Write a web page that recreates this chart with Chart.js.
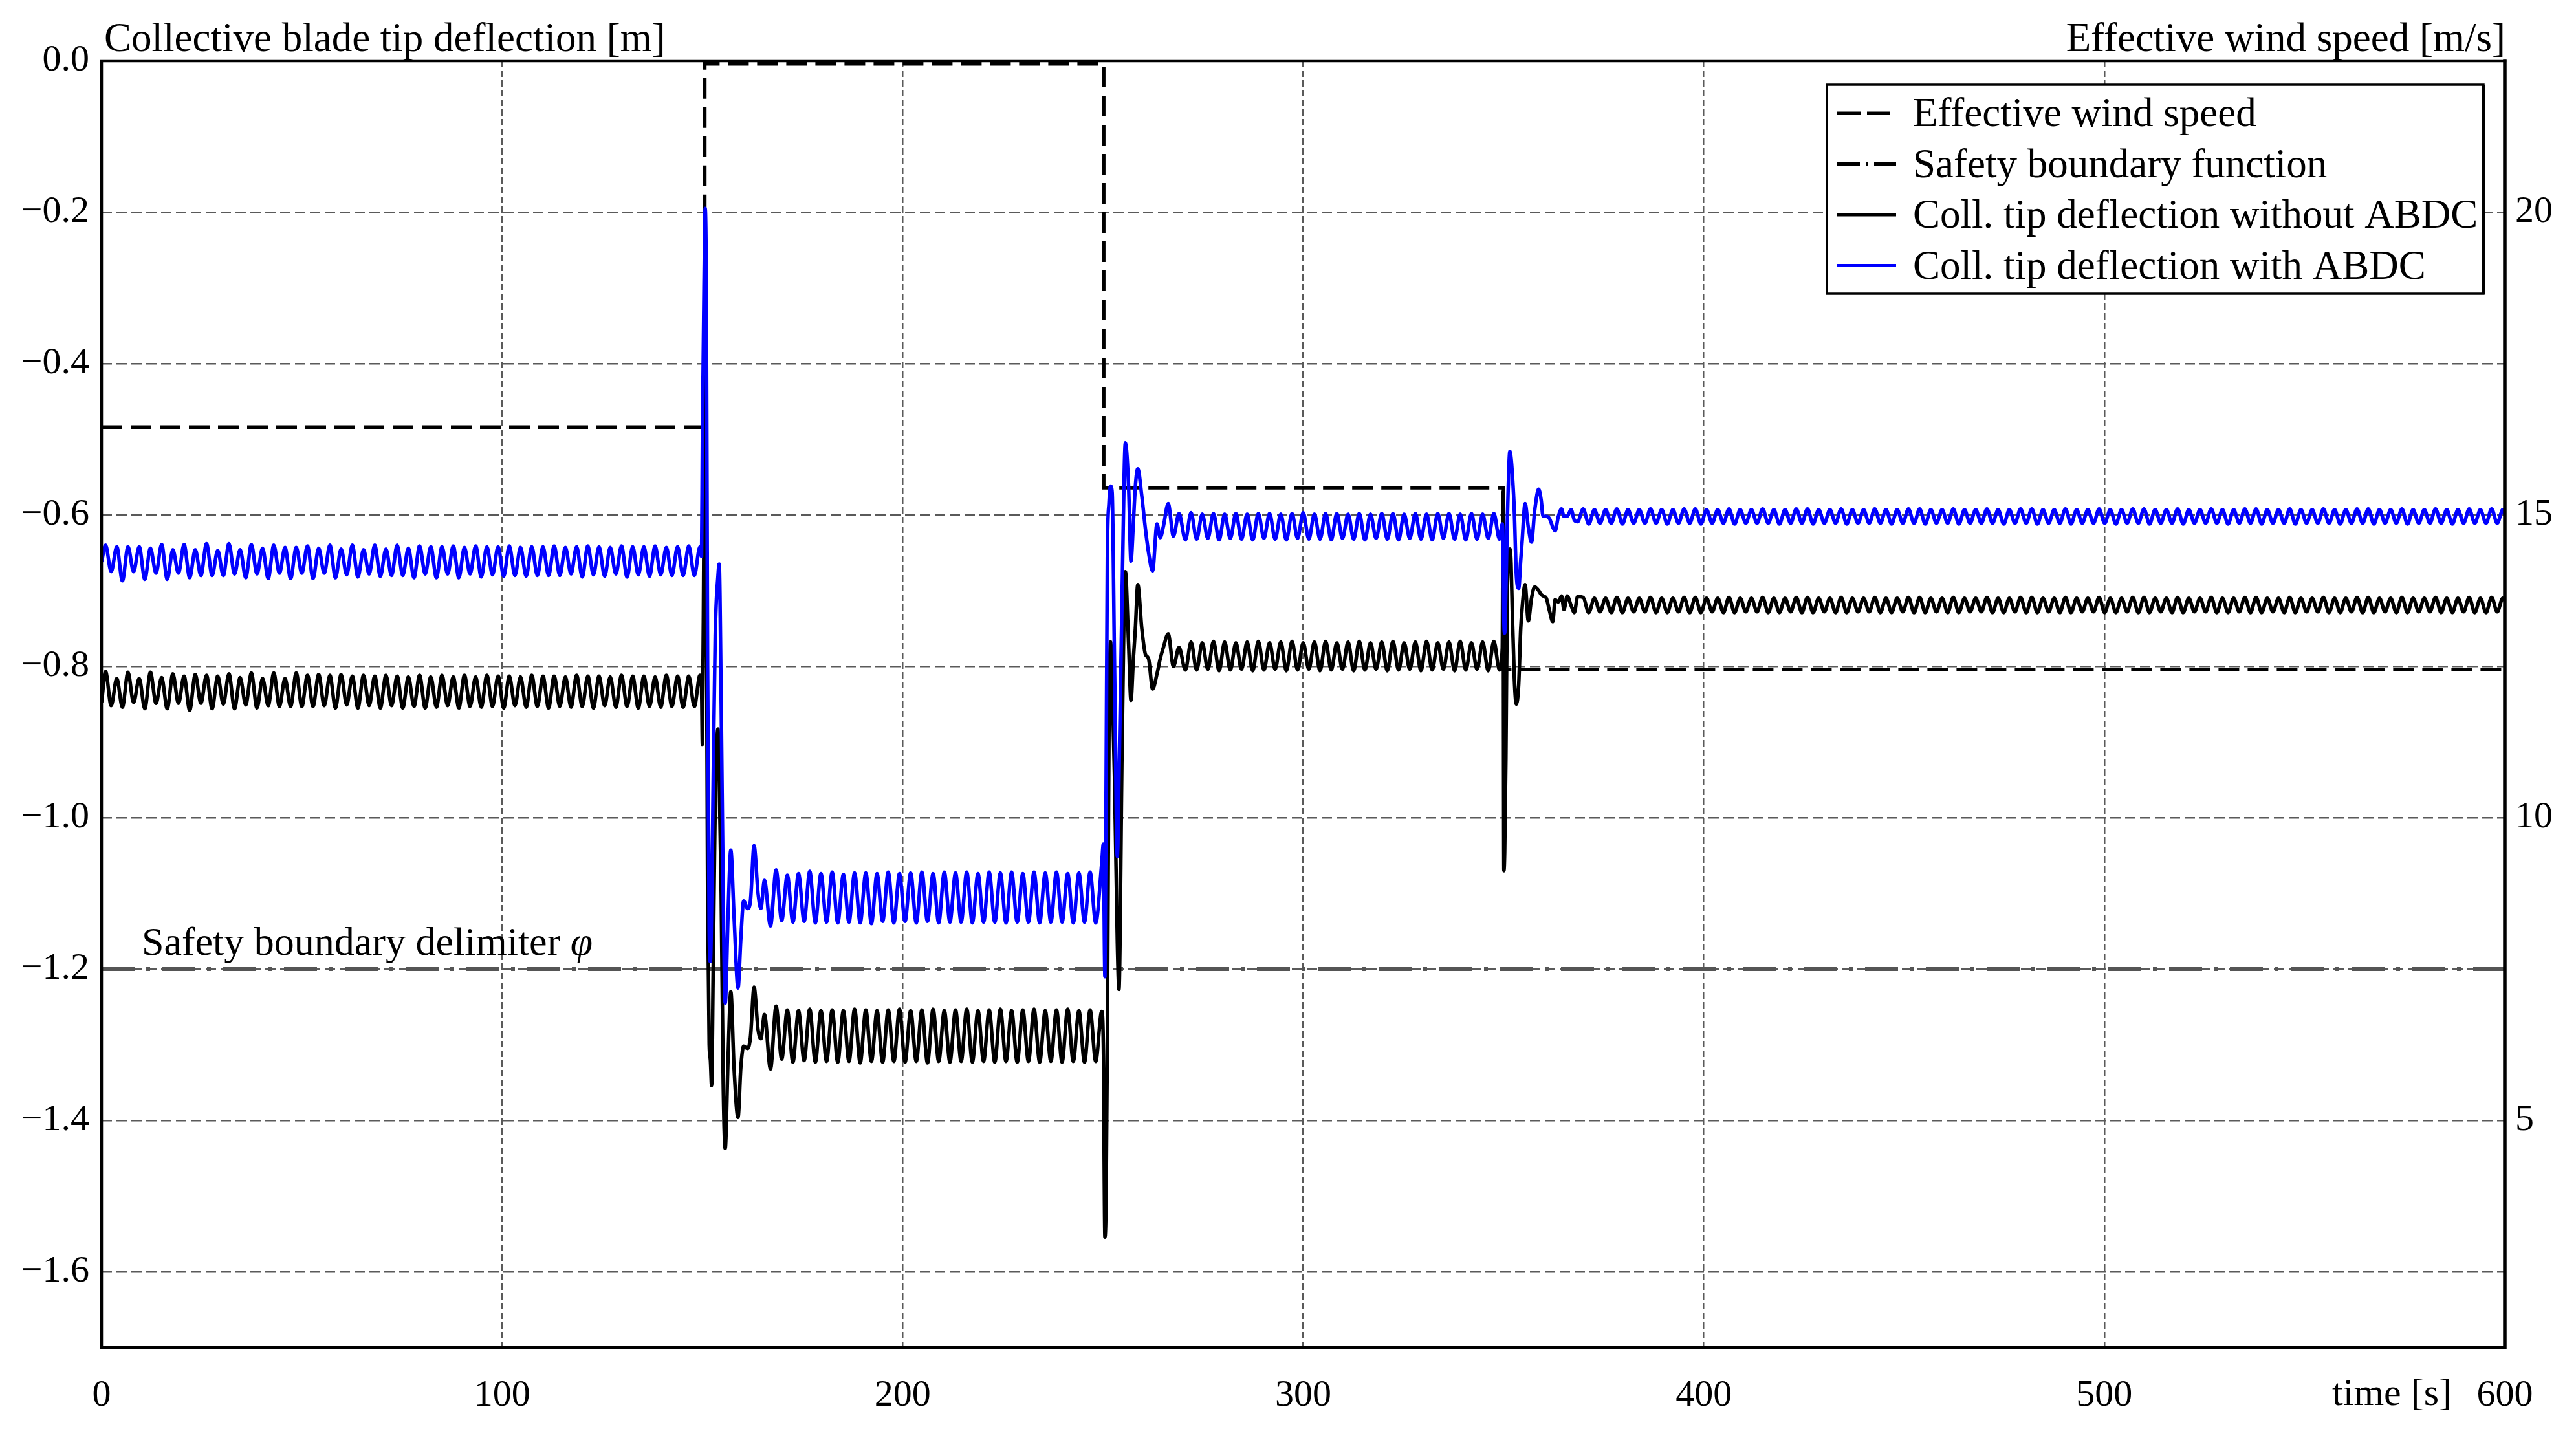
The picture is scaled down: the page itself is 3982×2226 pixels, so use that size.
<!DOCTYPE html>
<html>
<head>
<meta charset="utf-8">
<script src="https://cdn.jsdelivr.net/npm/chart.js@4.4.1/dist/chart.umd.min.js"></script>
<style>
html,body{margin:0;padding:0;background:#fff;}
canvas{display:block;}
</style>
</head>
<body>
<canvas id="c" width="3982" height="2226" style="width:3982px;height:2226px"></canvas>
<script>
// ---------------- data ----------------
const timeTicks = [0, 100, 200, 300, 400, 500, 600];
const deflectionTicks = [0, -0.2, -0.4, -0.6, -0.8, -1.0, -1.2, -1.4, -1.6];
const windTicks = [5, 10, 15, 20];

const seriesLabels = [
  'Effective wind speed',
  'Safety boundary function',
  'Coll. tip deflection without ABDC',
  'Coll. tip deflection with ABDC'
];
const leftAxisTitle = 'Collective blade tip deflection [m]';
const rightAxisTitle = 'Effective wind speed [m/s]';
const timeAxisTitle = 'time [s]';
const boundaryNote = 'Safety boundary delimiter ';
const boundarySymbol = 'φ';

// effective wind speed [m/s] (step changes)
const windTime = [0, 150.6, 250.2, 350.0, 600];
const windSpeed = [16.45, 22.45, 15.45, 12.45, 12.45];

// safety boundary [m]
const boundaryTime = [0, 600];
const boundaryValue = [-1.2, -1.2];

// sample times [s]
const time = [
  0,
  1.0, 2.4, 3.8, 5.2, 6.6, 8.0, 9.4, 10.8, 12.2, 13.6,
  15.0, 16.4, 17.8, 19.2, 20.6, 22.0, 23.4, 24.8, 26.2, 27.6,
  29.0, 30.4, 31.8, 33.2, 34.6, 36.0, 37.4, 38.8, 40.2, 41.6,
  43.0, 44.4, 45.8, 47.2, 48.6, 50.0, 51.4, 52.8, 54.2, 55.6,
  57.0, 58.4, 59.8, 61.2, 62.6, 64.0, 65.4, 66.8, 68.2, 69.6,
  71.0, 72.4, 73.8, 75.2, 76.6, 78.0, 79.4, 80.8, 82.2, 83.6,
  85.0, 86.4, 87.8, 89.2, 90.6, 92.0, 93.4, 94.8, 96.2, 97.6,
  99.0, 100.4, 101.8, 103.2, 104.6, 106.0, 107.4, 108.8, 110.2, 111.6,
  113.0, 114.4, 115.8, 117.2, 118.6, 120.0, 121.4, 122.8, 124.2, 125.6,
  127.0, 128.4, 129.8, 131.2, 132.6, 134.0, 135.4, 136.8, 138.2, 139.6,
  141.0, 142.4, 143.8, 145.2, 146.6, 148.0, 149.4,
  149.8, 150.0, 150.4, 150.7, 151.0, 151.3, 151.7, 152.0, 152.3, 152.7,
  153.2, 153.9, 154.2, 154.7, 155.2, 155.7, 156.4, 157.1, 157.9, 158.9,
  159.6, 160.3, 161.3, 162.0, 162.9, 163.9, 164.6, 165.5, 167.0,
  168.4, 169.8, 171.2, 172.6, 174.0, 175.4, 176.8, 178.2, 179.6, 181.0,
  182.4, 183.8, 185.2, 186.6, 188.0, 189.4, 190.8, 192.2, 193.6, 195.0,
  196.4, 197.8, 199.2, 200.6, 202.0, 203.4, 204.8, 206.2, 207.6, 209.0,
  210.4, 211.8, 213.2, 214.6, 216.0, 217.4, 218.8, 220.2, 221.6, 223.0,
  224.4, 225.8, 227.2, 228.6, 230.0, 231.4, 232.8, 234.2, 235.6, 237.0,
  238.4, 239.8, 241.2, 242.6, 244.0, 245.4, 246.8, 248.2,
  249.7, 250.1, 250.5, 250.8, 251.1, 251.5, 251.9, 252.3, 252.9, 253.6,
  254.0, 254.8, 255.6, 256.4, 257.0, 257.6, 258.1, 258.7, 259.7, 260.6,
  261.4, 262.4, 263.5, 264.3, 265.1, 266.3, 267.6, 269.0, 270.6,
  272.0, 273.4, 274.8, 276.2, 277.6, 279.0, 280.4, 281.8, 283.2, 284.6,
  286.0, 287.4, 288.8, 290.2, 291.6, 293.0, 294.4, 295.8, 297.2, 298.6,
  300.0, 301.4, 302.8, 304.2, 305.6, 307.0, 308.4, 309.8, 311.2, 312.6,
  314.0, 315.4, 316.8, 318.2, 319.6, 321.0, 322.4, 323.8, 325.2, 326.6,
  328.0, 329.4, 330.8, 332.2, 333.6, 335.0, 336.4, 337.8, 339.2, 340.6,
  342.0, 343.4, 344.8, 346.2, 347.6, 349.0,
  349.7, 349.9, 350.1, 350.3, 350.6, 351.0, 351.6, 351.9, 352.2, 352.7,
  353.2, 353.8, 354.3, 354.6, 355.4, 356.2, 357.0, 357.8, 358.8, 359.4,
  359.9, 360.7, 361.5, 362.3, 362.9, 363.7, 364.5, 365.1, 365.9, 366.9,
  367.7, 368.5,
  369.9, 371.3, 372.7, 374.1, 375.5, 376.9, 378.3, 379.7, 381.1, 382.5,
  383.9, 385.3, 386.7, 388.1, 389.5, 390.9, 392.3, 393.7, 395.1, 396.5,
  397.9, 399.3, 400.7, 402.1, 403.5, 404.9, 406.3, 407.7, 409.1, 410.5,
  411.9, 413.3, 414.7, 416.1, 417.5, 418.9, 420.3, 421.7, 423.1, 424.5,
  425.9, 427.3, 428.7, 430.1, 431.5, 432.9, 434.3, 435.7, 437.1, 438.5,
  439.9, 441.3, 442.7, 444.1, 445.5, 446.9, 448.3, 449.7, 451.1, 452.5,
  453.9, 455.3, 456.7, 458.1, 459.5, 460.9, 462.3, 463.7, 465.1, 466.5,
  467.9, 469.3, 470.7, 472.1, 473.5, 474.9, 476.3, 477.7, 479.1, 480.5,
  481.9, 483.3, 484.7, 486.1, 487.5, 488.9, 490.3, 491.7, 493.1, 494.5,
  495.9, 497.3, 498.7, 500.1, 501.5, 502.9, 504.3, 505.7, 507.1, 508.5,
  509.9, 511.3, 512.7, 514.1, 515.5, 516.9, 518.3, 519.7, 521.1, 522.5,
  523.9, 525.3, 526.7, 528.1, 529.5, 530.9, 532.3, 533.7, 535.1, 536.5,
  537.9, 539.3, 540.7, 542.1, 543.5, 544.9, 546.3, 547.7, 549.1, 550.5,
  551.9, 553.3, 554.7, 556.1, 557.5, 558.9, 560.3, 561.7, 563.1, 564.5,
  565.9, 567.3, 568.7, 570.1, 571.5, 572.9, 574.3, 575.7, 577.1, 578.5,
  579.9, 581.3, 582.7, 584.1, 585.5, 586.9, 588.3, 589.7, 591.1, 592.5,
  593.9, 595.3, 596.7, 598.1, 599.5, 600.0
];

// collective tip deflection with ABDC [m]
const deflectionWith = [
  -0.662,
  -0.640, -0.675, -0.642, -0.687, -0.642, -0.675, -0.642, -0.685, -0.644, -0.677,
  -0.639, -0.685, -0.646, -0.677, -0.639, -0.683, -0.646, -0.680, -0.638, -0.680,
  -0.647, -0.680, -0.638, -0.678, -0.646, -0.683, -0.639, -0.678, -0.644, -0.684,
  -0.640, -0.677, -0.643, -0.684, -0.643, -0.677, -0.641, -0.684, -0.644, -0.677,
  -0.640, -0.683, -0.645, -0.679, -0.640, -0.682, -0.646, -0.678, -0.640, -0.681,
  -0.645, -0.680, -0.640, -0.680, -0.644, -0.683, -0.641, -0.678, -0.642, -0.683,
  -0.642, -0.678, -0.641, -0.683, -0.643, -0.678, -0.641, -0.682, -0.642, -0.679,
  -0.642, -0.681, -0.641, -0.680, -0.643, -0.681, -0.642, -0.680, -0.642, -0.680,
  -0.641, -0.680, -0.643, -0.678, -0.642, -0.682, -0.641, -0.679, -0.642, -0.681,
  -0.643, -0.678, -0.641, -0.682, -0.642, -0.679, -0.642, -0.681, -0.641, -0.679,
  -0.643, -0.680, -0.642, -0.680, -0.641, -0.680, -0.642,
  -0.655, -0.500, -0.300, -0.195, -0.320, -0.800, -1.150, -1.190, -1.120, -0.950,
  -0.760, -0.680, -0.665, -0.850, -1.100, -1.245, -1.130, -1.043, -1.130, -1.225,
  -1.160, -1.110, -1.120, -1.110, -1.037, -1.100, -1.120, -1.083, -1.143,
  -1.069, -1.136, -1.076, -1.138, -1.074, -1.137, -1.071, -1.139, -1.074, -1.138,
  -1.072, -1.139, -1.075, -1.138, -1.073, -1.139, -1.073, -1.140, -1.074, -1.137,
  -1.072, -1.139, -1.074, -1.137, -1.073, -1.139, -1.072, -1.137, -1.074, -1.139,
  -1.072, -1.138, -1.073, -1.138, -1.072, -1.139, -1.074, -1.138, -1.072, -1.138,
  -1.073, -1.139, -1.072, -1.138, -1.074, -1.138, -1.072, -1.139, -1.073, -1.138,
  -1.072, -1.138, -1.074, -1.139, -1.073, -1.138, -1.072, -1.139,
  -1.060, -1.035, -1.210, -0.950, -0.654, -0.585, -0.562, -0.570, -0.800, -1.051,
  -0.950, -0.700, -0.505, -0.562, -0.661, -0.610, -0.562, -0.539, -0.575, -0.618,
  -0.650, -0.674, -0.612, -0.630, -0.615, -0.585, -0.628, -0.598, -0.633,
  -0.597, -0.632, -0.599, -0.631, -0.598, -0.633, -0.599, -0.631, -0.598, -0.632,
  -0.599, -0.633, -0.598, -0.631, -0.598, -0.632, -0.599, -0.633, -0.598, -0.631,
  -0.597, -0.632, -0.599, -0.632, -0.598, -0.633, -0.598, -0.631, -0.599, -0.632,
  -0.598, -0.633, -0.599, -0.631, -0.598, -0.632, -0.598, -0.633, -0.599, -0.631,
  -0.598, -0.632, -0.599, -0.633, -0.598, -0.631, -0.598, -0.632, -0.599, -0.633,
  -0.598, -0.632, -0.599, -0.631, -0.598, -0.632,
  -0.612, -0.640, -0.740, -0.756, -0.700, -0.600, -0.516, -0.525, -0.545, -0.594,
  -0.678, -0.697, -0.660, -0.639, -0.585, -0.616, -0.636, -0.594, -0.566, -0.580,
  -0.602, -0.602, -0.605, -0.616, -0.621, -0.602, -0.592, -0.602, -0.602, -0.593,
  -0.607, -0.609,
  -0.592, -0.612, -0.593, -0.611, -0.593, -0.611, -0.592, -0.612, -0.593, -0.611,
  -0.593, -0.611, -0.592, -0.611, -0.593, -0.612, -0.593, -0.611, -0.592, -0.611,
  -0.592, -0.612, -0.593, -0.611, -0.593, -0.611, -0.592, -0.612, -0.593, -0.611,
  -0.593, -0.611, -0.592, -0.611, -0.593, -0.612, -0.593, -0.611, -0.592, -0.611,
  -0.592, -0.612, -0.593, -0.611, -0.593, -0.611, -0.592, -0.612, -0.593, -0.611,
  -0.593, -0.611, -0.592, -0.611, -0.593, -0.612, -0.593, -0.611, -0.592, -0.611,
  -0.592, -0.612, -0.593, -0.611, -0.593, -0.611, -0.592, -0.612, -0.593, -0.611,
  -0.593, -0.611, -0.592, -0.611, -0.593, -0.612, -0.593, -0.611, -0.592, -0.611,
  -0.592, -0.612, -0.593, -0.611, -0.593, -0.611, -0.592, -0.612, -0.593, -0.611,
  -0.593, -0.611, -0.592, -0.611, -0.593, -0.612, -0.593, -0.611, -0.592, -0.611,
  -0.592, -0.612, -0.593, -0.611, -0.593, -0.611, -0.592, -0.612, -0.593, -0.611,
  -0.593, -0.611, -0.592, -0.611, -0.593, -0.612, -0.593, -0.611, -0.592, -0.611,
  -0.592, -0.612, -0.593, -0.611, -0.593, -0.611, -0.592, -0.612, -0.593, -0.611,
  -0.593, -0.611, -0.592, -0.611, -0.593, -0.612, -0.593, -0.611, -0.592, -0.611,
  -0.592, -0.612, -0.593, -0.611, -0.593, -0.611, -0.592, -0.612, -0.593, -0.611,
  -0.593, -0.611, -0.592, -0.611, -0.593, -0.612, -0.593, -0.611, -0.592, -0.611,
  -0.593, -0.611, -0.592, -0.611, -0.593, -0.600
];

// collective tip deflection without ABDC [m]
const deflectionWithout = [
  -0.848,
  -0.807, -0.852, -0.816, -0.854, -0.808, -0.848, -0.816, -0.856, -0.808, -0.849,
  -0.815, -0.856, -0.810, -0.849, -0.813, -0.858, -0.811, -0.849, -0.812, -0.856,
  -0.813, -0.850, -0.810, -0.856, -0.815, -0.851, -0.809, -0.855, -0.816, -0.852,
  -0.809, -0.853, -0.816, -0.853, -0.809, -0.853, -0.812, -0.853, -0.811, -0.852,
  -0.812, -0.855, -0.811, -0.851, -0.813, -0.855, -0.812, -0.852, -0.813, -0.855,
  -0.812, -0.852, -0.813, -0.855, -0.814, -0.853, -0.812, -0.855, -0.814, -0.854,
  -0.812, -0.852, -0.814, -0.855, -0.812, -0.853, -0.814, -0.854, -0.812, -0.853,
  -0.813, -0.855, -0.813, -0.852, -0.814, -0.854, -0.812, -0.853, -0.813, -0.855,
  -0.813, -0.853, -0.814, -0.854, -0.812, -0.853, -0.813, -0.855, -0.813, -0.852,
  -0.814, -0.854, -0.812, -0.853, -0.813, -0.855, -0.813, -0.853, -0.814, -0.854,
  -0.812, -0.853, -0.813, -0.854, -0.813, -0.853, -0.812,
  -0.830, -0.903, -0.600, -0.427, -0.700, -1.100, -1.300, -1.320, -1.354, -1.200,
  -0.980, -0.883, -0.950, -1.100, -1.350, -1.437, -1.320, -1.230, -1.330, -1.396,
  -1.330, -1.302, -1.305, -1.290, -1.224, -1.280, -1.292, -1.260, -1.332,
  -1.249, -1.319, -1.254, -1.323, -1.255, -1.321, -1.253, -1.323, -1.255, -1.322,
  -1.254, -1.323, -1.255, -1.322, -1.253, -1.324, -1.254, -1.322, -1.255, -1.323,
  -1.254, -1.322, -1.253, -1.323, -1.255, -1.322, -1.254, -1.324, -1.253, -1.322,
  -1.255, -1.323, -1.254, -1.322, -1.253, -1.323, -1.255, -1.322, -1.254, -1.323,
  -1.253, -1.322, -1.255, -1.323, -1.254, -1.322, -1.253, -1.323, -1.255, -1.322,
  -1.254, -1.323, -1.253, -1.322, -1.255, -1.323, -1.254, -1.322,
  -1.256, -1.300, -1.554, -1.500, -1.295, -0.890, -0.768, -0.820, -0.950, -1.165,
  -1.227, -0.900, -0.675, -0.770, -0.845, -0.790, -0.750, -0.692, -0.750, -0.784,
  -0.790, -0.830, -0.810, -0.790, -0.775, -0.757, -0.800, -0.775, -0.805,
  -0.768, -0.805, -0.769, -0.804, -0.767, -0.806, -0.768, -0.805, -0.769, -0.804,
  -0.768, -0.806, -0.767, -0.805, -0.769, -0.804, -0.768, -0.806, -0.767, -0.805,
  -0.769, -0.804, -0.768, -0.806, -0.767, -0.805, -0.769, -0.804, -0.768, -0.806,
  -0.767, -0.805, -0.769, -0.804, -0.768, -0.806, -0.767, -0.805, -0.769, -0.804,
  -0.768, -0.806, -0.767, -0.805, -0.769, -0.804, -0.768, -0.806, -0.767, -0.805,
  -0.769, -0.804, -0.768, -0.806, -0.767, -0.805,
  -0.776, -0.570, -1.070, -1.046, -0.923, -0.690, -0.645, -0.664, -0.727, -0.815,
  -0.850, -0.824, -0.751, -0.727, -0.692, -0.740, -0.710, -0.695, -0.700, -0.705,
  -0.707, -0.710, -0.727, -0.741, -0.712, -0.715, -0.707, -0.725, -0.707, -0.720,
  -0.729, -0.708,
  -0.709, -0.729, -0.710, -0.728, -0.710, -0.729, -0.709, -0.729, -0.710, -0.728,
  -0.710, -0.728, -0.709, -0.729, -0.710, -0.729, -0.710, -0.728, -0.709, -0.729,
  -0.709, -0.729, -0.710, -0.728, -0.710, -0.729, -0.709, -0.729, -0.710, -0.728,
  -0.710, -0.728, -0.709, -0.729, -0.710, -0.729, -0.710, -0.728, -0.709, -0.729,
  -0.709, -0.729, -0.710, -0.728, -0.710, -0.729, -0.709, -0.729, -0.710, -0.728,
  -0.710, -0.728, -0.709, -0.729, -0.710, -0.729, -0.710, -0.728, -0.709, -0.729,
  -0.709, -0.729, -0.710, -0.728, -0.710, -0.729, -0.709, -0.729, -0.710, -0.728,
  -0.710, -0.728, -0.709, -0.729, -0.710, -0.729, -0.710, -0.728, -0.709, -0.729,
  -0.709, -0.729, -0.710, -0.728, -0.710, -0.729, -0.709, -0.729, -0.710, -0.728,
  -0.710, -0.728, -0.709, -0.729, -0.710, -0.729, -0.710, -0.728, -0.709, -0.729,
  -0.709, -0.729, -0.710, -0.728, -0.710, -0.729, -0.709, -0.729, -0.710, -0.728,
  -0.710, -0.728, -0.709, -0.729, -0.710, -0.729, -0.710, -0.728, -0.709, -0.729,
  -0.709, -0.729, -0.710, -0.728, -0.710, -0.729, -0.709, -0.729, -0.710, -0.728,
  -0.710, -0.728, -0.709, -0.729, -0.710, -0.729, -0.710, -0.728, -0.709, -0.729,
  -0.709, -0.729, -0.710, -0.728, -0.710, -0.729, -0.709, -0.729, -0.710, -0.728,
  -0.710, -0.728, -0.709, -0.729, -0.710, -0.729, -0.710, -0.728, -0.709, -0.729,
  -0.710, -0.729, -0.709, -0.728, -0.710, -0.713
];

// ---------------- chart ----------------
const FONT = '"Liberation Serif", "Times New Roman", serif';
if (time.length !== deflectionWith.length || time.length !== deflectionWithout.length) {
  console.error('length mismatch', time.length, deflectionWith.length, deflectionWithout.length);
}
const pts = (xs, ys) => xs.map((x, i) => ({ x: x, y: ys[i] }));

const legendSampleDash = [[36, 10], [35, 9, 4, 9], [], []];
const legendSampleColor = ['#000', '#000', '#000', '#0000ff'];

const framePlugin = {
  id: 'frame',
  afterDatasetsDraw(chart) {
    const { ctx, chartArea: a } = chart;
    ctx.save();
    ctx.strokeStyle = '#000';
    ctx.lineCap = 'square';
    ctx.setLineDash([]);
    ctx.lineWidth = 4.5;
    ctx.beginPath();
    ctx.moveTo(a.left, a.bottom); ctx.lineTo(a.left, a.top); ctx.lineTo(a.right, a.top);
    ctx.stroke();
    ctx.lineWidth = 5.5;
    ctx.beginPath();
    ctx.moveTo(a.right, a.top); ctx.lineTo(a.right, a.bottom); ctx.lineTo(a.left, a.bottom);
    ctx.stroke();
    ctx.restore();
  }
};

const textPlugin = {
  id: 'texts',
  afterDraw(chart) {
    const { ctx, chartArea: a, scales } = chart;
    ctx.save();
    ctx.fillStyle = '#000';
    ctx.textBaseline = 'alphabetic';
    ctx.font = '63px ' + FONT;
    ctx.textAlign = 'left';
    ctx.fillText(leftAxisTitle, a.left + 4, a.top - 15);
    ctx.textAlign = 'right';
    ctx.fillText(rightAxisTitle, a.right + 1, a.top - 15);
    ctx.font = '60px ' + FONT;
    ctx.fillText(timeAxisTitle, scales.x.getPixelForValue(600) - 82, a.bottom + 89);
    ctx.textAlign = 'left';
    ctx.font = '62px ' + FONT;
    const ax = scales.x.getPixelForValue(10);
    const ay = scales.y.getPixelForValue(-1.2) - 22;
    ctx.fillText(boundaryNote, ax, ay);
    const w = ctx.measureText(boundaryNote).width;
    ctx.font = 'italic 62px ' + FONT;
    ctx.fillText(boundarySymbol, ax + w, ay);

    // legend box
    const bx = a.right - 1048, by = a.top + 37, bw = 1015, bh = 323;
    ctx.fillStyle = '#fff';
    ctx.fillRect(bx, by, bw, bh);
    ctx.strokeStyle = '#000';
    ctx.lineWidth = 3.5;
    ctx.setLineDash([]);
    ctx.strokeRect(bx, by, bw, bh);
    ctx.lineWidth = 5.5;
    ctx.beginPath();
    ctx.moveTo(bx + bw, by); ctx.lineTo(bx + bw, by + bh);
    ctx.stroke();
    ctx.font = '63px ' + FONT;
    chart.data.datasets.forEach((ds, i) => {
      const cy = by + 44 + 78.5 * i;
      ctx.save();
      ctx.strokeStyle = legendSampleColor[i];
      ctx.lineWidth = 5;
      ctx.lineCap = 'butt';
      ctx.setLineDash(legendSampleDash[i]);
      ctx.beginPath();
      ctx.moveTo(bx + 16, cy); ctx.lineTo(bx + 107, cy);
      ctx.stroke();
      ctx.restore();
      ctx.fillStyle = '#000';
      ctx.textAlign = 'left';
      ctx.fillText(ds.label, bx + 133, cy + 20);
    });
    ctx.restore();
  }
};

const gridColor = '#5a5a5a';

new Chart(document.getElementById('c'), {
  type: 'line',
  data: {
    datasets: [
      { label: seriesLabels[0], data: pts(windTime, windSpeed), yAxisID: 'y2',
        borderColor: '#000', borderWidth: 5.5, borderDash: [32, 13], stepped: true,
        pointRadius: 0, fill: false, order: 2 },
      { label: seriesLabels[1], data: pts(boundaryTime, boundaryValue), yAxisID: 'y',
        borderColor: '#555555', borderWidth: 6, borderDash: [51, 18, 6, 19],
        pointRadius: 0, fill: false, order: 3 },
      { label: seriesLabels[2], data: pts(time, deflectionWithout), yAxisID: 'y',
        borderColor: '#000', borderWidth: 5.5, cubicInterpolationMode: 'monotone',
        borderJoinStyle: 'round', pointRadius: 0, fill: false, order: 1 },
      { label: seriesLabels[3], data: pts(time, deflectionWith), yAxisID: 'y',
        borderColor: '#0000ff', borderWidth: 5.5, cubicInterpolationMode: 'monotone',
        borderJoinStyle: 'round', pointRadius: 0, fill: false, order: 0 }
    ]
  },
  options: {
    responsive: false,
    animation: false,
    devicePixelRatio: 1,
    layout: { padding: { top: 94, left: 0, right: 0, bottom: 0 } },
    plugins: { legend: { display: false }, tooltip: { enabled: false }, title: { display: false } },
    scales: {
      x: {
        type: 'linear', min: 0, max: 600, position: 'bottom',
        afterFit: s => { s.height = 143; },
        afterBuildTicks: s => { s.ticks = timeTicks.map(v => ({ value: v })); },
        ticks: { font: { family: FONT, size: 58 }, color: '#000', padding: 40,
                 maxRotation: 0, autoSkip: false, callback: v => String(v) },
        grid: { color: gridColor, lineWidth: 2.5, drawTicks: false },
        border: { display: false, dash: [10, 5] }
      },
      y: {
        type: 'linear', min: -1.7, max: 0, position: 'left',
        afterFit: s => { s.width = 157; },
        afterBuildTicks: s => { s.ticks = deflectionTicks.map(v => ({ value: v })); },
        ticks: { font: { family: FONT, size: 58 }, color: '#000', padding: 19, autoSkip: false,
                 callback: v => v === 0 ? '0.0' : '\u2212' + Math.abs(v).toFixed(1) },
        grid: { color: gridColor, lineWidth: 2.5, drawTicks: false },
        border: { display: false, dash: [16, 7] }
      },
      y2: {
        type: 'linear', min: 1.25, max: 22.5, position: 'right',
        afterFit: s => { s.width = 110; },
        afterBuildTicks: s => { s.ticks = windTicks.map(v => ({ value: v })); },
        ticks: { font: { family: FONT, size: 58 }, color: '#000', padding: 16, autoSkip: false,
                 callback: v => String(v) },
        grid: { display: false, drawTicks: false },
        border: { display: false }
      }
    }
  },
  plugins: [framePlugin, textPlugin]
});
</script>
</body>
</html>
